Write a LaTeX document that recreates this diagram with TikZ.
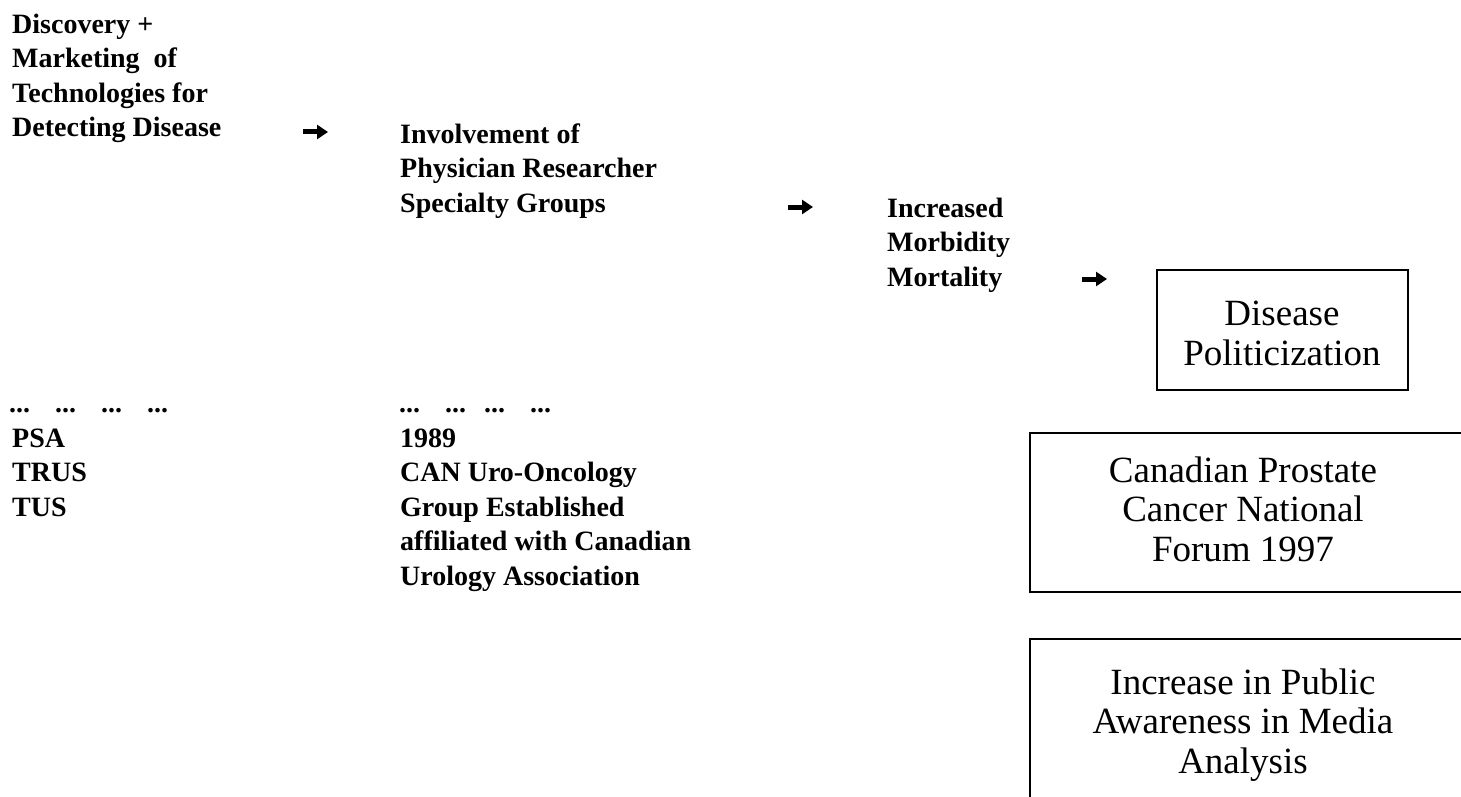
\documentclass[tikz,border=0pt]{standalone}
\usepackage{fontspec}
\setmainfont{Liberation Serif}
\usetikzlibrary{arrows.meta}
\tikzset{
  lbl/.style={anchor=base west, inner sep=0pt, align=left,
    font=\fontsize{28}{34.5}\selectfont\bfseries},
  boxtxt/.style={anchor=base, inner sep=0pt, align=center,
    font=\fontsize{37}{39.5}\selectfont},
  frame/.style={draw, line width=2.5pt},
  flow/.style={line width=5pt, -{Triangle[length=11pt,width=14pt]}},
}
\begin{document}
\begin{tikzpicture}[x=1pt,y=-1pt]
\useasboundingbox (0,0) rectangle (1461,797);
\clip (0,0) rectangle (1461,797);

% top chain (anchored at the baseline of the last line)
\node[lbl] (disc) at (12,136.5) {Discovery +\\Marketing\ \ of\\Technologies for\\Detecting Disease};
\node[lbl] (inv) at (400,212) {Involvement of\\Physician Researcher\\Specialty Groups};
\node[lbl] (morb) at (887,286) {Increased\\Morbidity\\Mortality};

\coordinate (a1s) at (303,132); \coordinate (a1e) at (328,132);
\coordinate (a2s) at (788,207); \coordinate (a2e) at (813,207);
\coordinate (a3s) at (1082,279); \coordinate (a3e) at (1107,279);
\draw[flow] (a1s) -- (a1e);
\draw[flow] (a2s) -- (a2e);
\draw[flow] (a3s) -- (a3e);

% boxes
\draw[frame] (1157,270) rectangle (1408,390);
\node[boxtxt] (pol) at (1282,365) {Disease\\Politicization};

\draw[frame] (1030,433) rectangle (1480,592);
\node[boxtxt] (forum) at (1243,561) {Canadian Prostate\\Cancer National\\Forum 1997};

\draw[frame] (1030,639) rectangle (1480,820);
\node[boxtxt] (media) at (1243,773) {Increase in Public\\Awareness in Media\\Analysis};

% lower lists
\node[lbl] (dotsA) at (9,412) {...\hspace{25pt}...\hspace{25pt}...\hspace{25pt}...};
\node[lbl] (tech) at (12,516) {PSA\\TRUS\\TUS};
\node[lbl] (dotsB) at (399,412) {...\hspace{25pt}...\hspace{18pt}...\hspace{25pt}...};
\node[lbl] (can) at (400,585) {1989\\CAN Uro-Oncology\\Group Established\\affiliated with Canadian\\Urology Association};
\end{tikzpicture}
\end{document}
